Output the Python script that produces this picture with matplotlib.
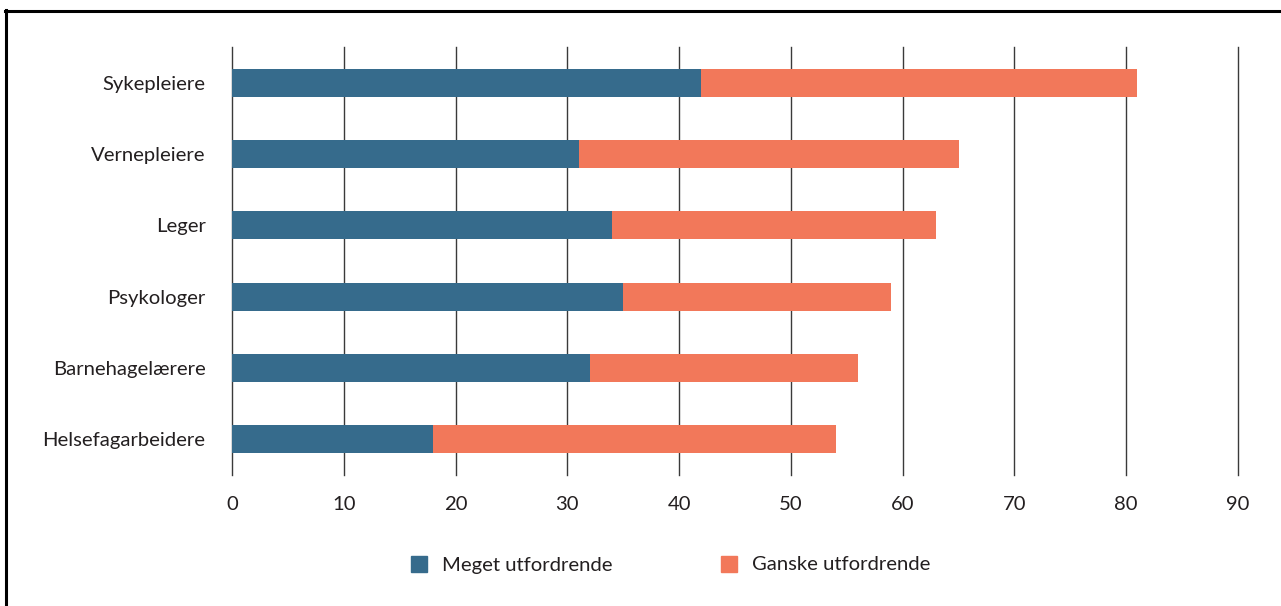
import matplotlib
matplotlib.use("Agg")
import matplotlib.pyplot as plt
from matplotlib.patches import Rectangle
from matplotlib.lines import Line2D

categories = ["Sykepleiere", "Vernepleiere", "Leger", "Psykologer",
              "Barnehagelærere", "Helsefagarbeidere"]
meget = [42, 31, 34, 35, 32, 18]
ganske = [39, 34, 29, 24, 24, 36]
series_labels = ["Meget utfordrende", "Ganske utfordrende"]
xticks = [0, 10, 20, 30, 40, 50, 60, 70, 80, 90]

blue = "#366b8c"
orange = "#f2785a"
text_color = "#231f20"

plt.rcParams["font.family"] = ["Lato", "DejaVu Sans"]
fs = 14.6

W, H = 1281, 606
fig = plt.figure(figsize=(W / 100, H / 100), dpi=100)

ax = fig.add_axes([232 / W, 1 - 475 / H, (1238 - 232) / W, (475 - 47) / H])
y = list(range(len(categories)))
ax.barh(y, meget, height=0.39, color=blue, zorder=3)
ax.barh(y, ganske, left=meget, height=0.39, color=orange, zorder=3)

ax.set_xlim(0, 90)
ax.set_ylim(len(categories) - 0.5, -0.5)
ax.set_xticks(xticks)
ax.set_xticklabels([str(t) for t in xticks], fontsize=fs, color=text_color)
ax.set_yticks(y)
ax.set_yticklabels(categories, fontsize=fs, color=text_color)
ax.tick_params(axis="x", length=0, pad=15)
ax.tick_params(axis="y", length=0, pad=19)
for t in xticks:
    ax.axvline(t, color="#3a3a3a", linewidth=1.0, zorder=1, clip_on=False)
for s in ax.spines.values():
    s.set_visible(False)

# Legend drawn in figure pixel coordinates
def fx(px):
    return px / W

def fy(py):
    return 1 - py / H

sq = 16
for x0, color, label in [(411, blue, series_labels[0]), (721, orange, series_labels[1])]:
    fig.add_artist(Rectangle((fx(x0), fy(572)), sq / W, sq / H, color=color,
                             transform=fig.transFigure))
    fig.text(fx(x0 + 31), fy(565), label, fontsize=fs, color=text_color,
             va="center", ha="left")

# Frame around the figure
fig.add_artist(Line2D([fx(5), fx(1280)], [fy(10.5), fy(10.5)], color="black",
                      linewidth=2.2, transform=fig.transFigure))
fig.add_artist(Line2D([fx(5.5), fx(5.5)], [fy(10), fy(606)], color="black",
                      linewidth=2.2, transform=fig.transFigure))

fig.savefig("out.png", dpi=100)
